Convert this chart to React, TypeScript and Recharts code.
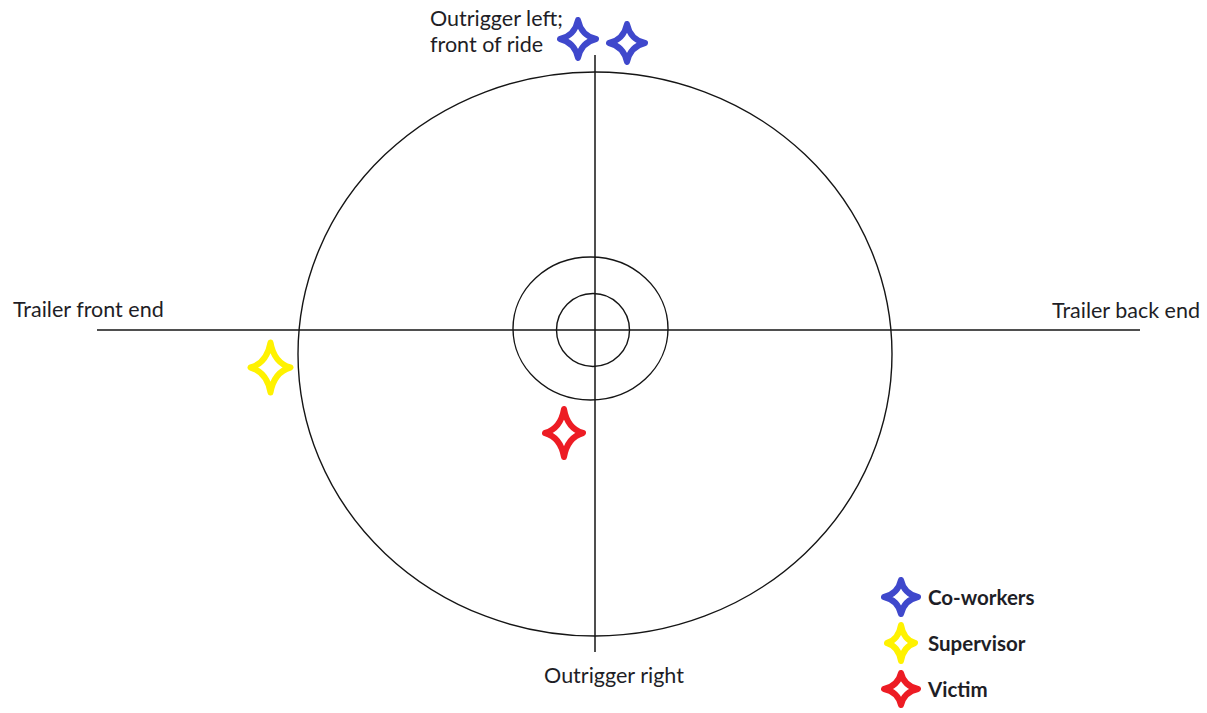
import React from "react";
import {
  ScatterChart,
  Scatter,
  XAxis,
  YAxis,
  ReferenceLine,
  Legend,
} from "recharts";

// Diagram frame: origin at the ride centre, x to the right, y upward.
const CHART_W = 1207;
const CHART_H = 713;
const X_MIN = -595;
const X_MAX = 612;
const Y_MIN = -383;
const Y_MAX = 330;

// Rings of the ride (centre + radii in diagram units)
const rings = [
  { name: "outer", x: 0, y: -24, rx: 297, ry: 282 },
  { name: "middle", x: -4.5, y: 1.5, rx: 77.5, ry: 71.5 },
  { name: "inner", x: -2, y: 0, rx: 36.5, ry: 36.5 },
];

// Axis lines across the ride
const horizontalAxis = [
  { x: -498, y: 0 },
  { x: 545, y: 0 },
];
const verticalAxis = [
  { x: 0, y: 275 },
  { x: 0, y: -322 },
];

// People positions
const coworkers = [
  { x: -17, y: 291 },
  { x: 32, y: 287 },
];
const supervisor = [{ x: -324.5, y: -37.5 }];
const victim = [{ x: -31, y: -103 }];

// Direction labels
const labels = [
  { text: "Outrigger left;", x: -165, y: 304, anchor: "start" },
  { text: "front of ride", x: -165, y: 278, anchor: "start" },
  { text: "Trailer front end", x: -582, y: 13, anchor: "start" },
  { text: "Trailer back end", x: 605, y: 12, anchor: "end" },
  { text: "Outrigger right", x: 19, y: -353, anchor: "middle" },
];

// Legend entries
const legendNames = ["Co-workers", "Supervisor", "Victim"];

const BLUE = "#3f48cc";
const YELLOW = "#fff200";
const RED = "#ed1c24";
const legendColors = [BLUE, YELLOW, RED];
const legendStarSize = [
  [17, 17],
  [14, 18],
  [17, 16],
];

const KX = CHART_W / (X_MAX - X_MIN);
const KY = CHART_H / (Y_MAX - Y_MIN);

const LINE = "#151515";
const TEXT = "#1e1e26";
const FONT = "Lato, 'Open Sans', sans-serif";

function starPath(cx: number, cy: number, w: number, h: number) {
  const cw = w * 0.18;
  const ch = h * 0.18;
  return `M${cx},${cy - h} Q${cx + cw},${cy - ch} ${cx + w},${cy} Q${cx + cw},${cy + ch} ${cx},${cy + h} Q${cx - cw},${cy + ch} ${cx - w},${cy} Q${cx - cw},${cy - ch} ${cx},${cy - h} Z`;
}

const makeStar = (color: string, w: number, h: number) => (props: any) => {
  const { cx, cy } = props;
  if (cx == null || cy == null) return <g />;
  return (
    <path
      d={starPath(cx, cy, w, h)}
      fill="#ffffff"
      stroke={color}
      strokeWidth={6}
      strokeLinejoin="round"
    />
  );
};

const ringShape = (props: any) => {
  const { cx, cy, payload } = props;
  if (cx == null || cy == null) return <g />;
  return (
    <ellipse
      cx={cx}
      cy={cy}
      rx={payload.rx * KX}
      ry={payload.ry * KY}
      fill="none"
      stroke={LINE}
      strokeWidth={1.4}
    />
  );
};

const labelShape = (props: any) => {
  const { cx, cy, payload } = props;
  if (cx == null || cy == null) return <g />;
  return (
    <text
      x={cx}
      y={cy}
      textAnchor={payload.anchor}
      fontFamily={FONT}
      fontSize={21.5}
      fill={TEXT}
    >
      {payload.text}
    </text>
  );
};

const renderLegend = () => (
  <div style={{ display: "flex", flexDirection: "column" }}>
    {legendNames.map((name, i) => (
      <div
        key={name}
        style={{ display: "flex", alignItems: "center", height: 46 }}
      >
        <svg width={40} height={44} style={{ display: "block" }}>
          <path
            d={starPath(20, 22, legendStarSize[i][0], legendStarSize[i][1])}
            fill="#ffffff"
            stroke={legendColors[i]}
            strokeWidth={6}
            strokeLinejoin="round"
          />
        </svg>
        <span
          style={{
            marginLeft: 7,
            fontFamily: FONT,
            fontWeight: 700,
            fontSize: 20.5,
            color: TEXT,
          }}
        >
          {name}
        </span>
      </div>
    ))}
  </div>
);

export default function App() {
  return (
    <div style={{ position: "absolute", left: 0, top: 0, background: "#fff" }}>
      <ScatterChart
        width={CHART_W}
        height={CHART_H}
        margin={{ top: 0, right: 0, bottom: 0, left: 0 }}
      >
        <XAxis
          type="number"
          dataKey="x"
          domain={[X_MIN, X_MAX]}
          hide
          allowDataOverflow
        />
        <YAxis
          type="number"
          dataKey="y"
          domain={[Y_MIN, Y_MAX]}
          hide
          allowDataOverflow
        />
        <ReferenceLine
          segment={horizontalAxis}
          stroke={LINE}
          strokeWidth={1.5}
          ifOverflow="visible"
        />
        <ReferenceLine
          segment={verticalAxis}
          stroke={LINE}
          strokeWidth={1.5}
          ifOverflow="visible"
        />
        <Scatter
          name="rings"
          data={rings}
          shape={ringShape}
          legendType="none"
          isAnimationActive={false}
        />
        <Scatter
          name="labels"
          data={labels}
          shape={labelShape}
          legendType="none"
          isAnimationActive={false}
        />
        <Scatter
          name="Co-workers"
          data={coworkers}
          shape={makeStar(BLUE, 18, 19)}
          isAnimationActive={false}
        />
        <Scatter
          name="Supervisor"
          data={supervisor}
          shape={makeStar(YELLOW, 20, 25)}
          isAnimationActive={false}
        />
        <Scatter
          name="Victim"
          data={victim}
          shape={makeStar(RED, 19, 24)}
          isAnimationActive={false}
        />
        <Legend
          layout="vertical"
          align="center"
          verticalAlign="middle"
          content={renderLegend}
          wrapperStyle={{ left: 881, top: 574, width: 220, height: 140 }}
        />
      </ScatterChart>
    </div>
  );
}
